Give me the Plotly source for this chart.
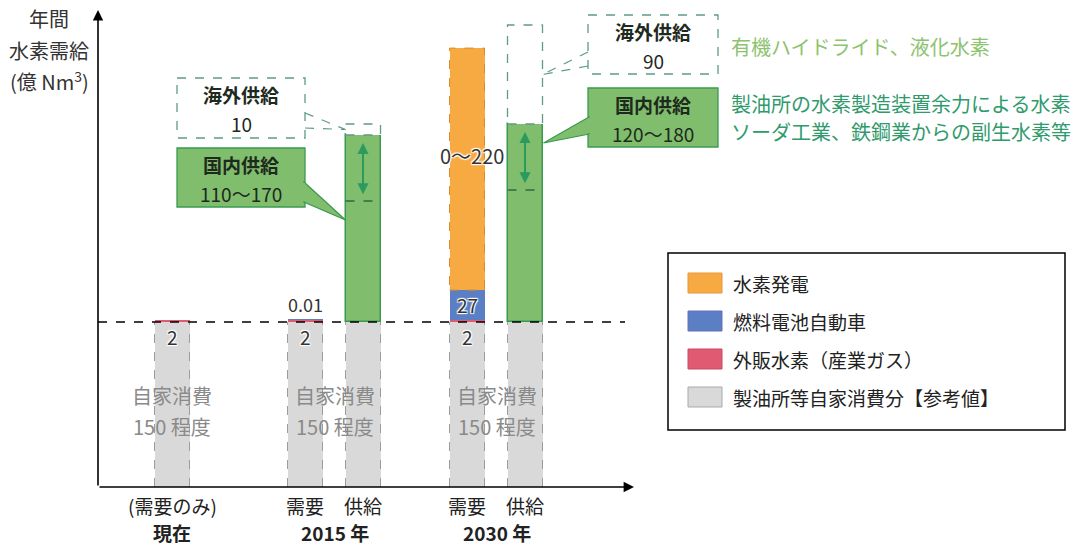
import plotly.graph_objects as go

# ---- data (億 Nm3 / 年) ----
columns = ["現在 需要", "2015 需要", "2015 供給", "2030 需要", "2030 供給"]
self_consumption = [150, 150, 150, 150, 150]          # 製油所等自家消費分【参考値】

demand_cols = ["現在 需要", "2015 需要", "2030 需要"]
merchant_h2 = [2, 2, 2]                                 # 外販水素（産業ガス）
fcv_cols = ["2015 需要", "2030 需要"]
fcv = [0.01, 27]                                        # 燃料電池自動車
fcv_labels = ["0.01", "27"]
power_cols = ["2030 需要"]
power_gen = [220]                                       # 水素発電 (0〜220)
power_labels = ["0～220"]

supply_cols = ["2015 供給", "2030 供給"]
domestic_low = [110, 120]                               # 国内供給 下限
domestic_high = [170, 180]                              # 国内供給 上限
overseas = [10, 90]                                     # 海外供給

# ---- layout constants ----
FONT = "Noto Sans CJK JP"
W, H = 1080, 546
Y0_PX = 487          # pixel row of value 0
K = 1.1              # pixels per unit
BAR_W = 35
XPOS = {"現在 需要": 172, "2015 需要": 305, "2015 供給": 363, "2030 需要": 467, "2030 供給": 525}

C_GRAY, C_GRAY_LINE = "#d9d9d9", "#9c9c9c"
C_RED = "#e05a72"
C_BLUE = "#5b7fc4"
C_ORANGE, C_ORANGE_LINE = "#f8aa42", "#d98a30"
C_GREEN, C_GREEN_LINE = "#80bd6c", "#3a9a50"
C_OVERSEAS_LINE = "#5f9c84"
C_ARROW = "#2a9a5e"
OUTLINE = "1px 1px 1px white, -1px -1px 1px white, 1px -1px 1px white, -1px 1px 1px white"


def px(col):
    return XPOS[col]


fig = go.Figure()


def add_bar(cols, vals, bases, color, line_color=None, line_w=0):
    fig.add_trace(go.Bar(
        x=[px(c) for c in cols], y=vals, base=bases, width=BAR_W,
        marker=dict(color=color, line=dict(color=line_color or color, width=line_w)),
        hoverinfo="skip", showlegend=False,
    ))


# self consumption (reference value)
add_bar(columns, self_consumption, [0] * len(columns), C_GRAY)
base_of = dict(zip(columns, self_consumption))

# demand stacks
add_bar(demand_cols, merchant_h2, [base_of[c] for c in demand_cols], C_RED)
top = {c: base_of[c] + v for c, v in zip(demand_cols, merchant_h2)}
add_bar(fcv_cols, fcv, [top[c] for c in fcv_cols], C_BLUE)
for c, v in zip(fcv_cols, fcv):
    top[c] += v
add_bar(power_cols, power_gen, [top[c] for c in power_cols], C_ORANGE)
power_base = {c: top[c] for c in power_cols}
for c, v in zip(power_cols, power_gen):
    top[c] += v

# supply stacks
add_bar(supply_cols, domestic_high, [base_of[c] for c in supply_cols], C_GREEN, C_GREEN_LINE, 1.5)
add_bar(supply_cols, overseas, [base_of[c] + h for c, h in zip(supply_cols, domestic_high)], "white")

# pixel-space helper axis for annotations / callouts
fig.add_trace(go.Scatter(x=[0], y=[0], yaxis="y2", mode="markers",
                         marker=dict(opacity=0), hoverinfo="skip", showlegend=False))

shapes = []
ann = []


def vpx(v):
    return Y0_PX - K * v


# dashed sides of the self-consumption bars
for c, v in zip(columns, self_consumption):
    for dx in (-BAR_W / 2, BAR_W / 2):
        shapes.append(dict(type="line", xref="x", yref="y", x0=px(c) + dx, x1=px(c) + dx,
                           y0=0, y1=v, line=dict(color=C_GRAY_LINE, width=1, dash="dash")))

# dashed outline of the power-generation range
for c, v in zip(power_cols, power_gen):
    shapes.append(dict(type="rect", xref="x", yref="y", x0=px(c) - BAR_W / 2, x1=px(c) + BAR_W / 2,
                       y0=power_base[c], y1=power_base[c] + v,
                       line=dict(color=C_ORANGE_LINE, width=1, dash="dash")))

# overseas supply outlines, domestic lower bound and range arrows
for c, lo, hi, ov in zip(supply_cols, domestic_low, domestic_high, overseas):
    b = base_of[c]
    shapes.append(dict(type="rect", xref="x", yref="y", x0=px(c) - BAR_W / 2, x1=px(c) + BAR_W / 2,
                       y0=b + hi, y1=b + hi + ov,
                       line=dict(color=C_OVERSEAS_LINE, width=1.3, dash="dash")))
    shapes.append(dict(type="line", xref="x", yref="y", x0=px(c) - BAR_W / 2, x1=px(c) + BAR_W / 2,
                       y0=b + lo, y1=b + lo, line=dict(color="#2f6b3c", width=1.3, dash="dash")))
    span = hi - lo
    ann.append(dict(x=px(c), y=b + hi - 0.12 * span, ax=px(c), ay=b + lo + 0.08 * span,
                    xref="x", yref="y", axref="x", ayref="y", text="", showarrow=True,
                    arrowside="end+start", arrowhead=2, arrowsize=1.1, arrowwidth=2,
                    arrowcolor=C_ARROW))

# baseline at self-consumption level
shapes.append(dict(type="line", xref="x", yref="y", x0=98, x1=625, y0=self_consumption[0],
                   y1=self_consumption[0], line=dict(color="black", width=1.5, dash="dash")))

# axes arrows
ann.append(dict(x=98, y=(Y0_PX - 10) / K, ax=98, ay=0, xref="x", yref="y", axref="x", ayref="y",
                text="", showarrow=True, arrowhead=2, arrowsize=1.3, arrowwidth=1.6, arrowcolor="black"))
ann.append(dict(x=634, y=0, ax=98, ay=0, xref="x", yref="y", axref="x", ayref="y",
                text="", showarrow=True, arrowhead=2, arrowsize=1.3, arrowwidth=1.6, arrowcolor="black"))


def text(x, y, s, size=20, color="#333", xanchor="center", yanchor="middle", yref="y2", shadow=None,
         family=FONT):
    f = dict(family=family, size=size, color=color)
    if shadow:
        f["shadow"] = shadow
    ann.append(dict(x=x, y=y, xref="x", yref=yref, text=s, showarrow=False, font=f,
                    xanchor=xanchor, yanchor=yanchor, borderpad=0))


# y-axis title
text(49, 18, "年間")
text(49, 50, "水素需給")
text(49, 81, "(億 Nm<sup>3</sup>)")

# value labels
for c, v in zip(demand_cols, merchant_h2):
    text(px(c), base_of[c], str(v), size=19, color="#333", yanchor="top", yref="y", shadow=OUTLINE)
for c, v, lab in zip(fcv_cols, fcv, fcv_labels):
    b = base_of[c] + merchant_h2[demand_cols.index(c)]
    if v < 5:
        text(px(c), b + v + 2, lab, size=18, color="#333", yanchor="bottom", yref="y", shadow=OUTLINE)
    else:
        text(px(c), b + v / 2, lab, size=19, color="#333", yref="y", shadow=OUTLINE)
for c, v, lab in zip(power_cols, power_gen, power_labels):
    text(px(c) + 5, power_base[c] + v / 2 + 12, lab, size=20, color="#333", yref="y", shadow=OUTLINE)

# self-consumption labels
for xc in (172, 335, 497):
    text(xc, 395, "自家消費", size=20, color="#8a8a8a")
    text(xc, 426, "150 程度", size=20, color="#8a8a8a")

# category labels
text(172, 505, "(需要のみ)", size=19, color="#222")
text(172, 532, "<b>現在</b>", size=19, color="#222")
for c, lab in (("2015 需要", "需要"), ("2015 供給", "供給"), ("2030 需要", "需要"), ("2030 供給", "供給")):
    text(px(c), 505, lab, size=19, color="#222")
text(335, 532, "<b>2015 年</b>", size=19, color="#222")
text(497, 532, "<b>2030 年</b>", size=19, color="#222")


# callouts (pixel space)
def callout(x0, y0, x1, y1, title, value, green):
    if green:
        shapes.append(dict(type="rect", xref="x", yref="y2", x0=x0, x1=x1, y0=y0, y1=y1,
                           fillcolor=C_GREEN, line=dict(color=C_GREEN_LINE, width=1.3)))
    else:
        shapes.append(dict(type="rect", xref="x", yref="y2", x0=x0, x1=x1, y0=y0, y1=y1,
                           fillcolor="white", line=dict(color=C_OVERSEAS_LINE, width=1.3, dash="dash")))
    cx = (x0 + x1) / 2
    text(cx, y0 + 16, f"<b>{title}</b>", size=19, color="#1e2a1e")
    text(cx, y0 + 45, value, size=19, color="#1e2a1e")


for i, c in enumerate(supply_cols):
    b = base_of[c]
    hi, ov = domestic_high[i], overseas[i]
    ov_mid = vpx(b + hi + ov / 2)
    if c.startswith("2015"):
        callout(177, 78, 305, 138, "海外供給", str(ov), False)
        callout(177, 148, 305, 207, "国内供給", f"{domestic_low[i]}～{hi}", True)
        bar_left = px(c) - BAR_W / 2
        for yy in (113, 128):
            shapes.append(dict(type="line", xref="x", yref="y2", x0=305, x1=bar_left, y0=yy, y1=ov_mid,
                               line=dict(color=C_OVERSEAS_LINE, width=1.2, dash="dash")))
        shapes.append(dict(type="path", xref="x", yref="y2",
                           path=f"M 304,182 L {bar_left},220 L 304,202 Z",
                           fillcolor=C_GREEN, line=dict(color=C_GREEN_LINE, width=1.2)))
        shapes.append(dict(type="line", xref="x", yref="y2", x0=304, x1=304, y0=183, y1=201,
                           line=dict(color=C_GREEN, width=2.5)))
    else:
        callout(588, 15, 718, 74, "海外供給", str(ov), False)
        callout(588, 88, 718, 147, "国内供給", f"{domestic_low[i]}～{hi}", True)
        bar_right = px(c) + BAR_W / 2
        for yy in (52, 66):
            shapes.append(dict(type="line", xref="x", yref="y2", x0=588, x1=bar_right, y0=yy, y1=ov_mid,
                               line=dict(color=C_OVERSEAS_LINE, width=1.2, dash="dash")))
        shapes.append(dict(type="path", xref="x", yref="y2",
                           path=f"M 589,117 L {bar_right + 1},143 L 589,134 Z",
                           fillcolor=C_GREEN, line=dict(color=C_GREEN_LINE, width=1.2)))
        shapes.append(dict(type="line", xref="x", yref="y2", x0=589, x1=589, y0=118, y1=133,
                           line=dict(color=C_GREEN, width=2.5)))

# supply source notes
text(730, 46, "有機ハイドライド、液化水素", size=20, color="#8dc26f", xanchor="left")
text(730, 103, "製油所の水素製造装置余力による水素", size=20, color="#2f9a6b", xanchor="left")
text(730, 131, "ソーダ工業、鉄鋼業からの副生水素等", size=20, color="#2f9a6b", xanchor="left")

# legend
shapes.append(dict(type="rect", xref="x", yref="y2", x0=668, x1=1065, y0=253, y1=430,
                   line=dict(color="black", width=1.5), fillcolor="rgba(0,0,0,0)"))
legend_items = [("水素発電", C_ORANGE, "#e8963a"), ("燃料電池自動車", C_BLUE, "#6a6fb8"),
                ("外販水素（産業ガス）", C_RED, "#c84a60"), ("製油所等自家消費分【参考値】", C_GRAY, "#aaaaaa")]
for j, (lab, col, lcol) in enumerate(legend_items):
    yc = 283 + 38 * j
    shapes.append(dict(type="rect", xref="x", yref="y2", x0=688, x1=722, y0=yc - 10, y1=yc + 10,
                       fillcolor=col, line=dict(color=lcol, width=1)))
    text(732, yc, lab, size=19, color="#222", xanchor="left")

fig.update_layout(
    width=W, height=H, autosize=False,
    margin=dict(l=0, r=0, t=0, b=0, pad=0),
    paper_bgcolor="white", plot_bgcolor="white",
    barmode="overlay", bargap=0,
    xaxis=dict(range=[0, W], visible=False, fixedrange=True),
    yaxis=dict(range=[(Y0_PX - H) / K, Y0_PX / K], visible=False, fixedrange=True),
    yaxis2=dict(range=[H, 0], overlaying="y", visible=False, fixedrange=True),
    shapes=shapes, annotations=ann,
    font=dict(family=FONT),
)

fig.write_html("out.html")
